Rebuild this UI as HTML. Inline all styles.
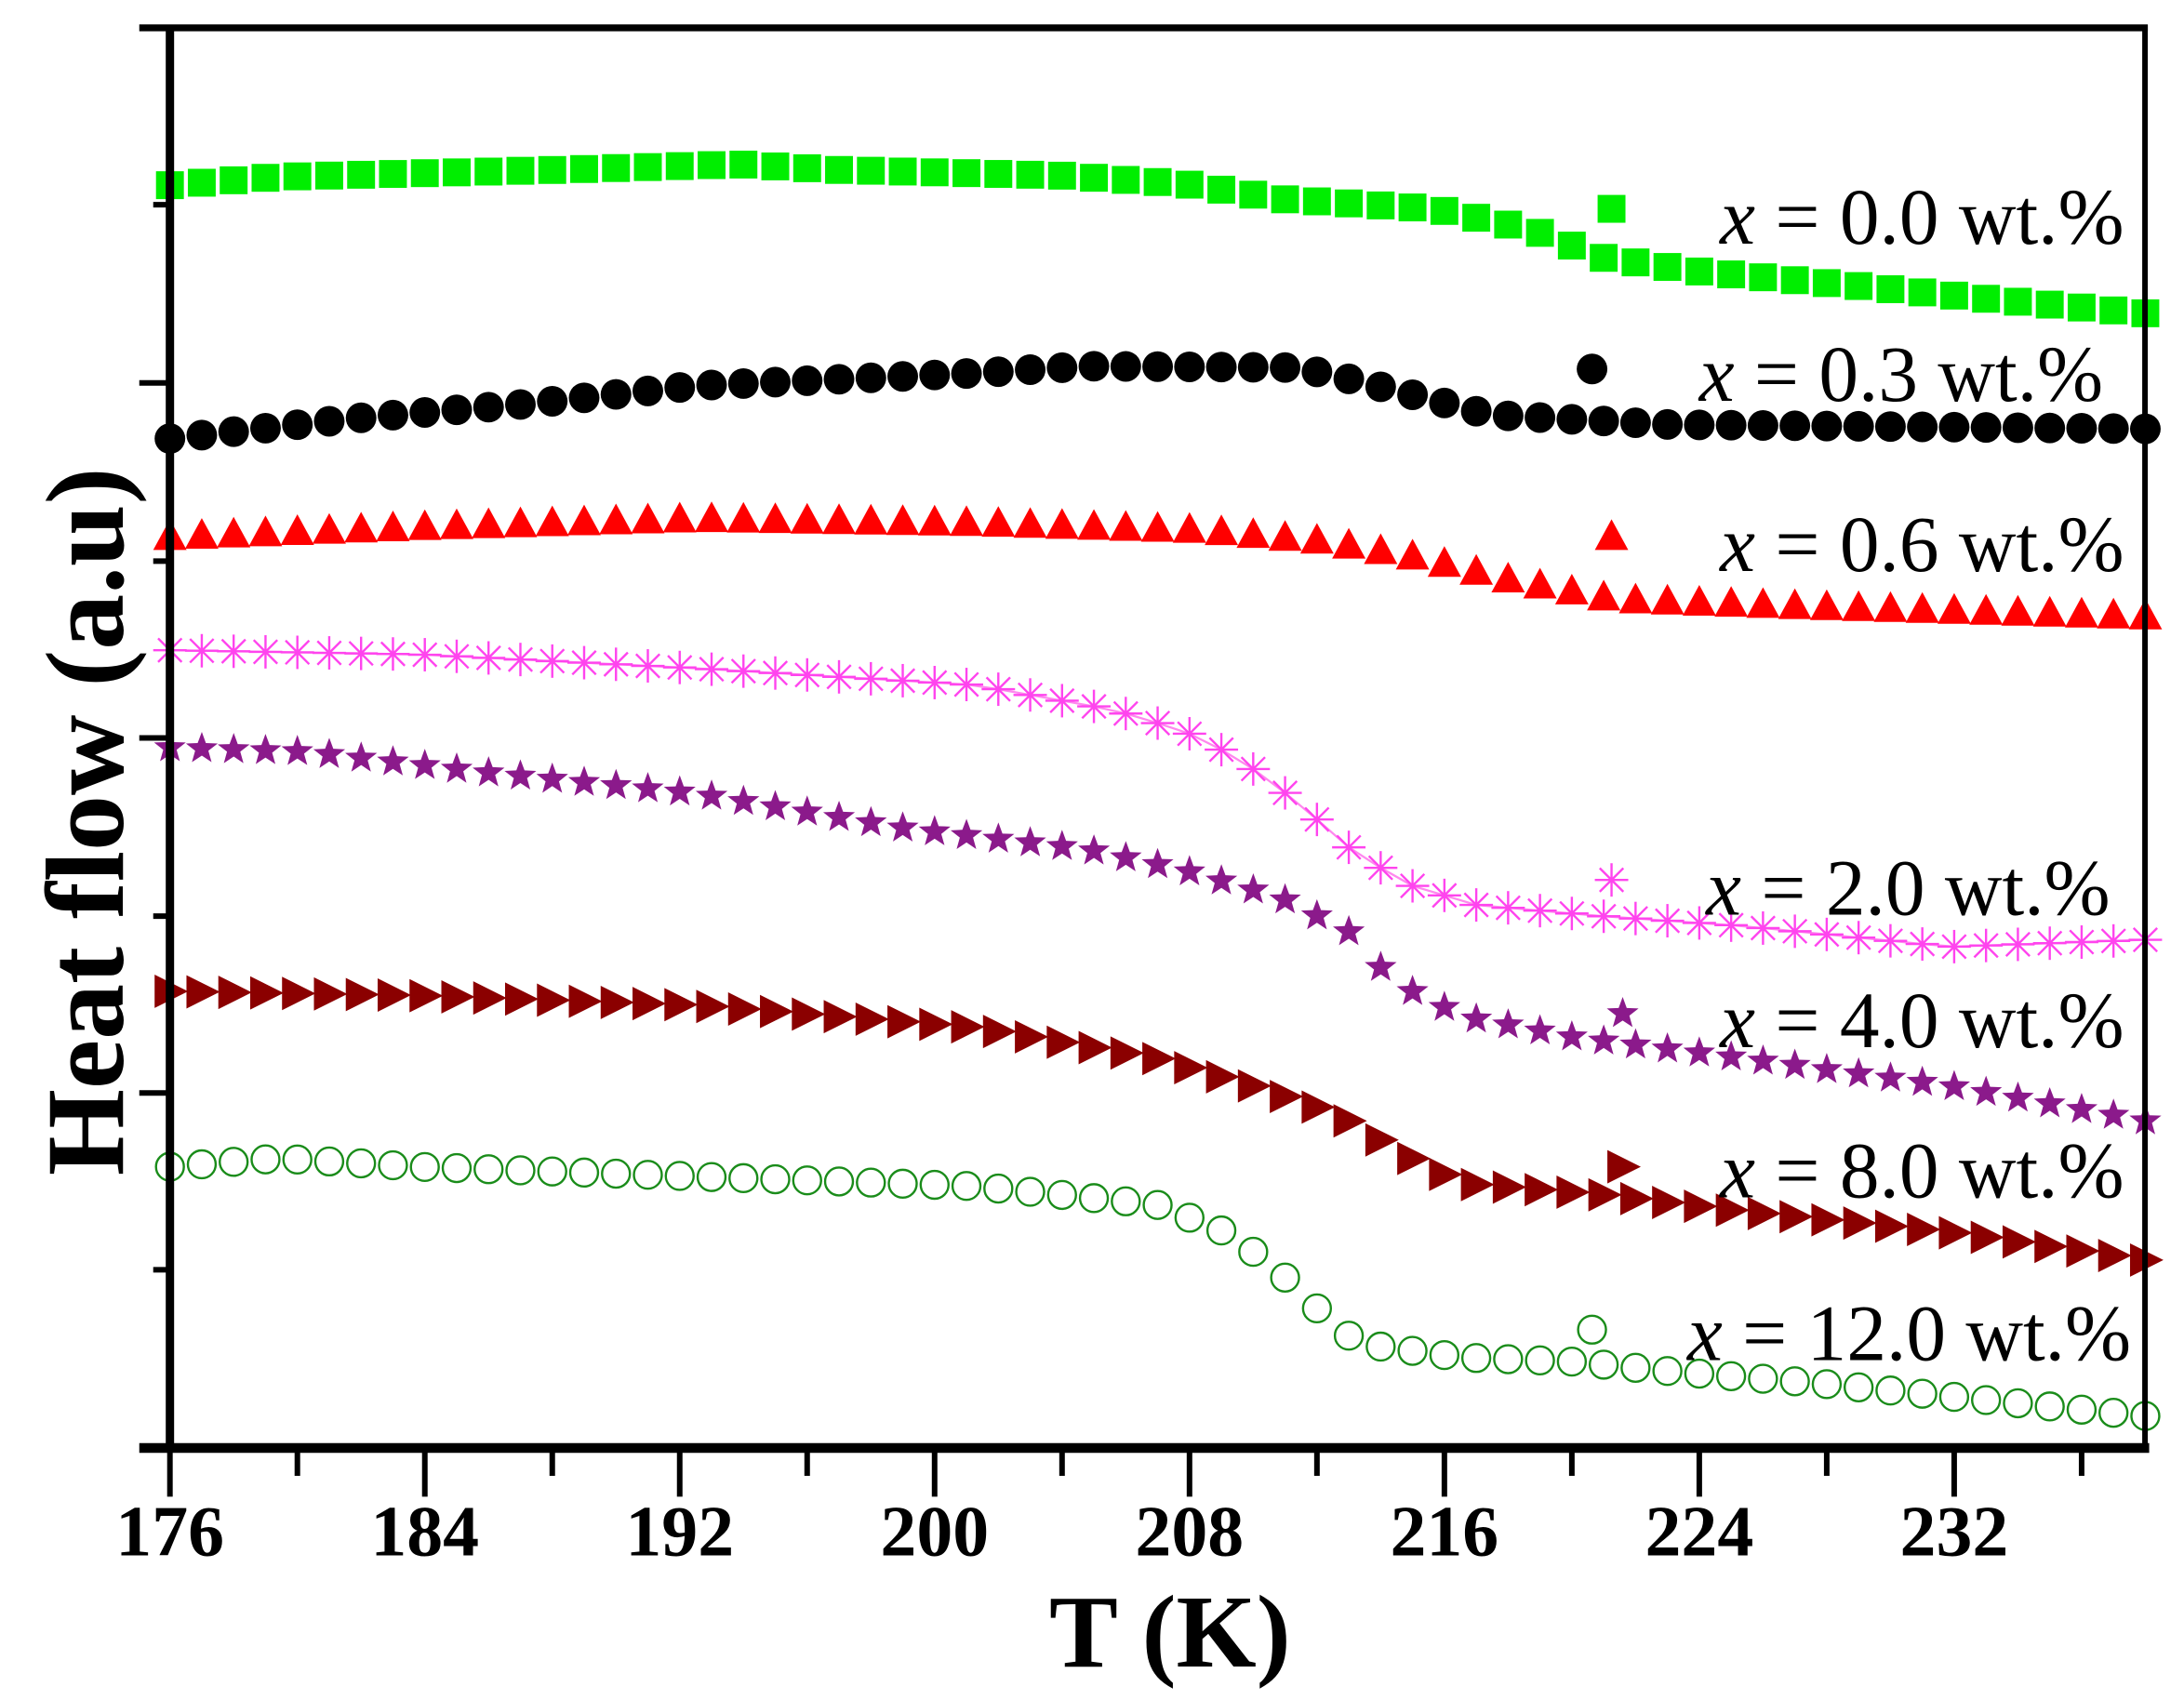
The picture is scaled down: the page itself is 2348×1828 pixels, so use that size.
<!DOCTYPE html>
<html><head><meta charset="utf-8"><style>
html,body{margin:0;padding:0;background:#fff;}
svg{display:block}
</style></head><body>
<svg id="s" width="2348" height="1828" viewBox="0 0 1568 1221" preserveAspectRatio="none" xmlns="http://www.w3.org/2000/svg">
<rect width="1568" height="1221" fill="#fff"/>
<g id="data"></g>
<g id="axes" stroke="#000" fill="none"></g>
<g font-family="Liberation Serif, serif" font-weight="bold" font-size="52" text-anchor="middle" fill="#000">
<text x="122" y="1117">176</text><text x="305" y="1117">184</text><text x="488" y="1117">192</text><text x="671" y="1117">200</text>
<text x="854" y="1117">208</text><text x="1037" y="1117">216</text><text x="1220" y="1117">224</text><text x="1403" y="1117">232</text>
<text x="840" y="1197" font-size="74">T (K)</text>
<text transform="translate(88,590) rotate(-90)" font-size="80">Heat flow (a.u)</text>
</g>
<g font-family="Liberation Serif, serif" font-size="57" text-anchor="end" fill="#000">
<text x="1525" y="175"><tspan font-style="italic">x</tspan> = 0.0 wt.%</text>
<text x="1510" y="288"><tspan font-style="italic">x</tspan> = 0.3 wt.%</text>
<text x="1525" y="410"><tspan font-style="italic">x</tspan> = 0.6 wt.%</text>
<text x="1515" y="657"><tspan font-style="italic">x</tspan> = 2.0 wt.%</text>
<text x="1525" y="752"><tspan font-style="italic">x</tspan> = 4.0 wt.%</text>
<text x="1525" y="860"><tspan font-style="italic">x</tspan> = 8.0 wt.%</text>
<text x="1530" y="977"><tspan font-style="italic">x</tspan> = 12.0 wt.%</text>
</g>
</svg>
<script>
var NS="http://www.w3.org/2000/svg";
function el(p,t,a){var e=document.createElementNS(NS,t);for(var k in a)e.setAttribute(k,a[k]);p.appendChild(e);return e;}
var ax=document.getElementById('axes'),d=document.getElementById('data');
el(ax,'line',{x1:122,y1:18,x2:122,y2:1042,'stroke-width':6});
el(ax,'line',{x1:100,y1:1040,x2:1543,y2:1040,'stroke-width':7});
el(ax,'line',{x1:1540,y1:18,x2:1540,y2:1040,'stroke-width':4});
el(ax,'line',{x1:100,y1:20,x2:1542,y2:20,'stroke-width':5});
[147,275,403,530,658,785,912].forEach(function(y,i){el(ax,'line',{x1:(i%2?100:110),y1:y,x2:122,y2:y,'stroke-width':4});});
for(var i=0;i<16;i++){var x=122+i*91.5;el(ax,'line',{x1:x,y1:1040,x2:x,y2:(i%2?1060:1075),'stroke-width':4});}
function interp(pts,x){for(var i=0;i<pts.length-1;i++){if(x<=pts[i+1][0]){var a=pts[i],b=pts[i+1];return a[1]+(b[1]-a[1])*(x-a[0])/(b[0]-a[0]);}}return pts[pts.length-1][1];}
var step=22.875;
function xs(){var r=[];for(var x=122;x<=1541;x+=step)r.push(x);return r;}
var S=[
{c:'#00ee00',m:'sq',p:[[122,133],[200,127],[400,122],[530,118],[600,122],[760,126],[850,132],[920,143],[1030,150],[1100,165],[1150,185],[1220,195],[1330,205],[1430,215],[1540,225]],L:[1157,150]},
{c:'#000',m:'ci',p:[[122,315],[260,300],[380,290],[500,277],[700,268],[780,263],[930,264],[960,270],[1020,285],[1070,298],[1200,305],[1540,308]],L:[1143,265]},
{c:'#ff0000',m:'tr',p:[[122,385],[300,378],[500,372],[700,375],[860,380],[950,388],[1020,400],[1080,415],[1160,430],[1300,435],[1540,442]],L:[1157,385]},
{c:'#ff44ee',m:'as',p:[[122,467],[300,470],[500,480],[700,492],[800,510],[850,525],[890,545],[930,575],[970,610],[1010,635],[1060,650],[1150,658],[1250,665],[1400,680],[1540,675]],L:[1157,632]},
{c:'#8b1a8b',m:'st',p:[[122,537],[220,540],[350,555],[500,570],[650,595],[780,610],[850,625],[920,645],[970,670],[1000,705],[1050,730],[1130,745],[1250,760],[1400,780],[1540,805]],L:[1165,728]},
{c:'#8b0000',m:'rt',p:[[122,712],[300,715],[500,722],[700,738],[830,760],[900,780],[960,800],[1010,830],[1050,850],[1150,858],[1250,870],[1400,885],[1540,905]],L:[1165,838]},
{c:'#1a8c1a',m:'oc',p:[[122,838],[200,832],[300,838],[500,845],[700,852],[830,865],[880,885],[915,910],[940,935],[975,965],[1050,975],[1130,978],[1200,985],[1300,993],[1420,1005],[1540,1017]],L:[1143,955]}
];
function mark(s,x,y){var c=s.c;
 if(s.m=='sq')el(d,'rect',{x:x-10,y:y-10,width:20,height:20,fill:c});
 else if(s.m=='ci')el(d,'circle',{cx:x,cy:y,r:11,fill:c});
 else if(s.m=='tr')el(d,'polygon',{points:(x-12)+','+(y+10)+' '+(x+12)+','+(y+10)+' '+x+','+(y-12),fill:c});
 else if(s.m=='rt')el(d,'polygon',{points:(x-11)+','+(y-12)+' '+(x-11)+','+(y+12)+' '+(x+13)+','+y,fill:c});
 else if(s.m=='oc')el(d,'circle',{cx:x,cy:y,r:10,fill:'none',stroke:c,'stroke-width':1.6});
 else if(s.m=='st'){var pts=[];for(var k=0;k<10;k++){var r=k%2?5:12,a=-Math.PI/2+k*Math.PI/5;pts.push((x+r*Math.cos(a)).toFixed(1)+','+(y+r*Math.sin(a)).toFixed(1));}el(d,'polygon',{points:pts.join(' '),fill:c});}
 else if(s.m=='as'){for(var k=0;k<4;k++){var a=k*Math.PI/4;el(d,'line',{x1:x-12*Math.cos(a),y1:y-12*Math.sin(a),x2:x+12*Math.cos(a),y2:y+12*Math.sin(a),stroke:c,'stroke-width':1.6});}}
}
S.forEach(function(s){var X=xs();
 if(s.m=='as'){el(d,'polyline',{points:X.map(function(x){return x+','+interp(s.p,x);}).join(' '),fill:'none',stroke:'#ff88ee','stroke-width':1.5});}
 X.forEach(function(x){mark(s,x,interp(s.p,x));});
 mark(s,s.L[0],s.L[1]);
});
</script>
</body></html>
